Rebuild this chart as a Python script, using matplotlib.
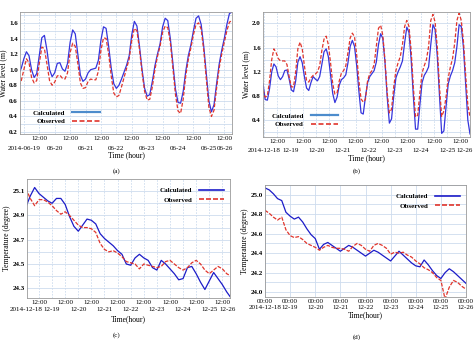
import numpy as np
import matplotlib
matplotlib.use("Agg")
import matplotlib.pyplot as plt
from matplotlib.lines import Line2D

plt.rcParams['font.family'] = ['Liberation Serif', 'DejaVu Serif']

# (a) water level, June 2014, hours from 2014-06-19 00:00
a_hours = np.arange(-4, 163, 2)
a_calc = [0.95, 1.02, 1.14, 1.23, 1.18, 1.00, 0.90, 0.95, 1.18, 1.41, 1.44, 1.25,
          1.00, 0.91, 0.96, 1.08, 1.09, 1.01, 0.98, 1.08, 1.35, 1.51, 1.46, 1.20,
          0.93, 0.85, 0.88, 0.96, 1.00, 1.01, 1.02, 1.12, 1.38, 1.55, 1.53, 1.30,
          1.02, 0.82, 0.76, 0.80, 0.88, 0.97, 1.06, 1.18, 1.45, 1.62, 1.56, 1.30,
          1.00, 0.76, 0.66, 0.68, 0.85, 1.05, 1.20, 1.33, 1.55, 1.66, 1.63, 1.40,
          1.08, 0.75, 0.58, 0.57, 0.72, 0.98, 1.18, 1.32, 1.50, 1.66, 1.69, 1.58,
          1.30, 0.95, 0.60, 0.46, 0.55, 0.82, 1.07, 1.25, 1.40, 1.58, 1.72, 1.74]
a_obs = [0.79, 0.86, 1.00, 1.14, 1.09, 0.90, 0.83, 0.86, 1.08, 1.29, 1.27, 1.07,
         0.86, 0.80, 0.84, 0.92, 0.93, 0.89, 0.88, 0.96, 1.22, 1.34, 1.30, 1.08,
         0.83, 0.76, 0.77, 0.85, 0.88, 0.87, 0.87, 0.98, 1.25, 1.41, 1.40, 1.20,
         0.92, 0.70, 0.65, 0.67, 0.78, 0.90, 1.02, 1.14, 1.38, 1.53, 1.50, 1.26,
         0.96, 0.72, 0.61, 0.62, 0.78, 1.00, 1.17, 1.30, 1.48, 1.56, 1.54, 1.35,
         1.02, 0.68, 0.47, 0.44, 0.62, 0.92, 1.13, 1.28, 1.45, 1.58, 1.60, 1.52,
         1.25, 0.88, 0.52, 0.40, 0.48, 0.76, 1.02, 1.20, 1.35, 1.50, 1.61, 1.63]
a_dates = ['2014-06-19', '06-20', '06-21', '06-22', '06-23', '06-24', '06-25', '06-26']

# (b) water level, December 2014, hours from 2014-12-18 00:00
b_hours = np.arange(-1, 190, 2)
b_calc = [1.00, 0.74, 0.73, 0.92, 1.20, 1.33, 1.28, 1.13, 1.07, 1.12, 1.22, 1.23,
          1.08, 0.90, 0.87, 1.05, 1.36, 1.45, 1.35, 1.12, 0.93, 0.89, 1.02, 1.12,
          1.08, 1.05, 1.12, 1.32, 1.53, 1.58, 1.45, 1.15, 0.84, 0.69, 0.78, 0.98,
          1.07, 1.10, 1.15, 1.35, 1.62, 1.72, 1.62, 1.30, 0.88, 0.52, 0.50, 0.78,
          1.02, 1.12, 1.17, 1.22, 1.36, 1.65, 1.83, 1.75, 1.35, 0.78, 0.35, 0.42,
          0.80, 1.10, 1.20, 1.28, 1.38, 1.68, 1.94, 1.85, 1.40, 0.80, 0.25, 0.25,
          0.65, 1.02, 1.14, 1.20, 1.28, 1.65, 1.98, 1.90, 1.45, 0.80, 0.18, 0.22,
          0.62, 1.00, 1.13, 1.22, 1.35, 1.62, 1.98, 1.95, 1.60, 1.00, 0.40, 0.17]
b_obs = [0.90, 0.78, 0.80, 1.05, 1.40, 1.58, 1.52, 1.42, 1.38, 1.38, 1.38, 1.32,
         1.12, 0.95, 0.95, 1.20, 1.58, 1.69, 1.58, 1.30, 1.05, 1.03, 1.10, 1.14,
         1.16, 1.20, 1.30, 1.55, 1.74, 1.79, 1.65, 1.35, 1.00, 0.83, 0.85, 1.05,
         1.18, 1.22, 1.30, 1.52, 1.76, 1.84, 1.78, 1.48, 1.05, 0.75, 0.70, 0.74,
         1.05, 1.17, 1.22, 1.32, 1.62, 1.92, 1.97, 1.80, 1.38, 0.85, 0.52, 0.58,
         0.95, 1.22, 1.35, 1.45, 1.65, 1.95, 2.05, 1.95, 1.55, 0.95, 0.45, 0.48,
         0.85, 1.18, 1.30, 1.40, 1.62, 2.05, 2.15, 2.02, 1.60, 0.95, 0.46, 0.55,
         0.78, 1.10, 1.28, 1.42, 1.68, 2.05, 2.17, 2.05, 1.70, 1.15, 0.65, 0.45]
dec_dates = ['2014-12-18', '12-19', '12-20', '12-21', '12-22', '12-23', '12-24',
             '12-25', '12-26']

# (c) temperature, hours from 2014-12-18 00:00
c_hours = np.arange(0, 189, 4)
c_calc = [24.97, 25.06, 25.13, 25.08, 25.05, 25.02,
          25.00, 25.04, 25.04, 24.99, 24.89, 24.81,
          24.77, 24.82, 24.87, 24.86, 24.83, 24.75,
          24.71, 24.68, 24.65, 24.61, 24.58, 24.50,
          24.49, 24.55, 24.58, 24.55, 24.53, 24.47,
          24.45, 24.53, 24.50, 24.46, 24.42, 24.37,
          24.38, 24.47, 24.48, 24.42, 24.35, 24.29,
          24.36, 24.43, 24.38, 24.33, 24.27, 24.22]
c_obs = [25.12, 25.04, 24.98, 25.03, 25.03, 25.01,
         24.98, 24.94, 24.91, 24.93, 24.90, 24.86,
         24.82, 24.80, 24.80, 24.79, 24.76, 24.67,
         24.62, 24.60, 24.61, 24.59, 24.56, 24.52,
         24.51, 24.50, 24.46, 24.50, 24.49, 24.48,
         24.47, 24.48, 24.52, 24.53, 24.50, 24.47,
         24.45, 24.47, 24.51, 24.53, 24.50, 24.45,
         24.42, 24.45, 24.48, 24.46, 24.42, 24.40]

# (d) temperature, hours from 2014-12-18 00:00
d_hours = np.arange(0, 193, 4)
d_calc = [25.07, 25.05, 25.01, 24.96, 24.94, 24.82,
          24.78, 24.75, 24.77, 24.72, 24.65, 24.59,
          24.55, 24.44, 24.49, 24.51, 24.48, 24.45,
          24.42, 24.45, 24.48, 24.46, 24.43, 24.40,
          24.37, 24.40, 24.43, 24.41, 24.38, 24.35,
          24.32, 24.37, 24.42, 24.38, 24.34, 24.30,
          24.27, 24.26, 24.33, 24.28, 24.22, 24.17,
          24.14, 24.20, 24.24, 24.21, 24.17, 24.13,
          24.09]
d_obs = [24.84, 24.81, 24.77, 24.74, 24.77, 24.64,
         24.58, 24.56, 24.57, 24.54, 24.50, 24.48,
         24.46, 24.43, 24.46, 24.48, 24.46, 24.45,
         24.45, 24.44, 24.42, 24.47, 24.50, 24.48,
         24.44, 24.42, 24.48, 24.50, 24.48, 24.45,
         24.39, 24.41, 24.40, 24.41, 24.38, 24.36,
         24.32, 24.29, 24.25, 24.23, 24.20, 24.15,
         24.12, 23.93, 24.05, 24.12, 24.10, 24.06,
         24.03]

BLUE = '#3535dc'
DARKBLUE = '#1c1cc8'
RED = '#e0352c'
LEGBLUE = '#4d8ccc'
GRID = '#cddcee'
FS = 5


def px_axes(fig, left, top, right, bottom, W=475, H=340):
    return fig.add_axes([left / W, 1 - bottom / H, (right - left) / W, (bottom - top) / H])


def style(ax, xlim, ylim, yticks, yminor, ylabel, xlabel, vdash=True):
    ax.set_xlim(xlim)
    ax.set_ylim(ylim)
    ax.set_yticks(yticks, ['%.1f' % v for v in yticks], fontweight='bold')
    ax.set_yticks(yminor, minor=True)
    ax.tick_params(which='both', length=0, labelsize=FS, pad=1.5)
    ax.grid(which='both', axis='y', color=GRID, lw=0.6)
    ax.grid(which='both', axis='x', color=GRID, lw=0.6,
            ls=(0, (2, 1.5)) if vdash else '-')
    ax.set_axisbelow(True)
    for s in ax.spines.values():
        s.set_color('#9a9a9a')
        s.set_linewidth(0.6)
    ax.set_ylabel(ylabel, fontsize=5.5, labelpad=1.5)
    ax.set_xlabel(xlabel, fontsize=5.5, labelpad=7)


def noon_ticks(ax, ndays, dates, offset, edge_shift=1):
    xmin, xmax = ax.get_xlim()
    noons = [12 + 24 * k for k in range(ndays) if xmin <= 12 + 24 * k <= xmax]
    ax.set_xticks(noons, ['12:00'] * len(noons))
    ax.set_xticks([24 * k for k in range(ndays + 1) if xmin <= 24 * k <= xmax], minor=True)
    tr = ax.get_xaxis_transform()
    for k, d in enumerate(dates):
        x = 24 * k
        ha = 'center'
        if x > xmax:
            x, ha = xmax + edge_shift, 'right'
        ax.text(x, offset, d, transform=tr, ha=ha, va='center', fontsize=FS, clip_on=False)


fig = plt.figure(figsize=(4.75, 3.4), dpi=100)

# (a)
ax = px_axes(fig, 20, 12, 232, 134)
ax.plot(a_hours, a_calc, color=BLUE, lw=0.9)
ax.plot(a_hours, a_obs, color=RED, lw=0.9, ls=(0, (3, 1.5)))
style(ax, (-3, 162), (0.175, 1.74), [0.2, 0.4, 0.6, 0.8, 1.0, 1.2, 1.4, 1.6],
      np.arange(0.2, 1.75, 0.1), 'Water level (m)', 'Time (hour)')
noon_ticks(ax, 8, a_dates, -0.115)
hl = [Line2D([], [], color=LEGBLUE, lw=1.6), Line2D([], [], color=RED, lw=1.2, ls=(0, (3, 1.5)))]
ax.legend(hl, ['Calculated', 'Observed'], loc='lower left', bbox_to_anchor=(0.03, 0.03),
          frameon=False, markerfirst=False, handlelength=4, handletextpad=1.0,
          labelspacing=0.35, prop={'size': FS, 'weight': 'bold'})

# (b)
ax = px_axes(fig, 263, 12, 470, 137)
ax.plot(b_hours, b_calc, color=BLUE, lw=0.9)
ax.plot(b_hours, b_obs, color=RED, lw=0.9, ls=(0, (3, 1.5)))
style(ax, (-1, 189), (0.12, 2.19), [0.4, 0.8, 1.2, 1.6, 2.0],
      np.arange(0.2, 2.2, 0.2), 'Water level (m)', 'Time (hour)')
noon_ticks(ax, 8, dec_dates, -0.105, edge_shift=3)
ax.legend(hl, ['Calculated', 'Observed'], loc='lower left', bbox_to_anchor=(0.01, 0.03),
          frameon=False, markerfirst=False, handlelength=4, handletextpad=1.0,
          labelspacing=0.35, prop={'size': FS, 'weight': 'bold'})

# (c)
ax = px_axes(fig, 27, 179, 230, 298)
ax.plot(c_hours, c_calc, color=DARKBLUE, lw=0.9)
ax.plot(c_hours, c_obs, color=RED, lw=0.9, ls=(0, (3, 1.2)))
style(ax, (1, 187), (24.22, 25.2), [24.3, 24.5, 24.7, 24.9, 25.1],
      np.arange(24.3, 25.2, 0.1), 'Temperature (degree)', 'Time(hour)')
noon_ticks(ax, 8, dec_dates, -0.10, edge_shift=5)
hl2 = [Line2D([], [], color=DARKBLUE, lw=1.2), Line2D([], [], color=RED, lw=1.2, ls=(0, (3, 1.2)))]
ax.legend(hl2, ['Calculated', 'Observed'], loc='upper right', bbox_to_anchor=(1.0, 0.98),
          frameon=False, markerfirst=False, handlelength=3.5, handletextpad=1.0,
          labelspacing=0.5, prop={'size': FS, 'weight': 'bold'})

# (d)
ax = px_axes(fig, 265, 185, 466, 297)
ax.plot(d_hours, d_calc, color=DARKBLUE, lw=0.9)
ax.plot(d_hours, d_obs, color=RED, lw=0.9, ls=(0, (3, 1.2)))
style(ax, (0, 192), (23.95, 25.08), [24.0, 24.2, 24.4, 24.6, 24.8, 25.0],
      np.arange(24.0, 25.1, 0.1), 'Temperature (degree)', 'Time(hour)', vdash=False)
ax.set_xticks([24 * k for k in range(9)], ['00:00\n' + d for d in dec_dates])
ax.set_xlabel('Time(hour)', fontsize=5.5, labelpad=1)
ax.legend(hl2, ['Calculated', 'Observed'], loc='upper right', bbox_to_anchor=(1.0, 0.98),
          frameon=False, markerfirst=False, handlelength=3.5, handletextpad=1.0,
          labelspacing=0.5, prop={'size': FS, 'weight': 'bold'})

for lab, x, y in [('(a)', 117, 171), ('(b)', 357, 171), ('(c)', 117, 335), ('(d)', 357, 337)]:
    fig.text(x / 475, 1 - y / 340, lab, ha='center', va='center', fontsize=FS)

fig.savefig('out.png', dpi=100)
